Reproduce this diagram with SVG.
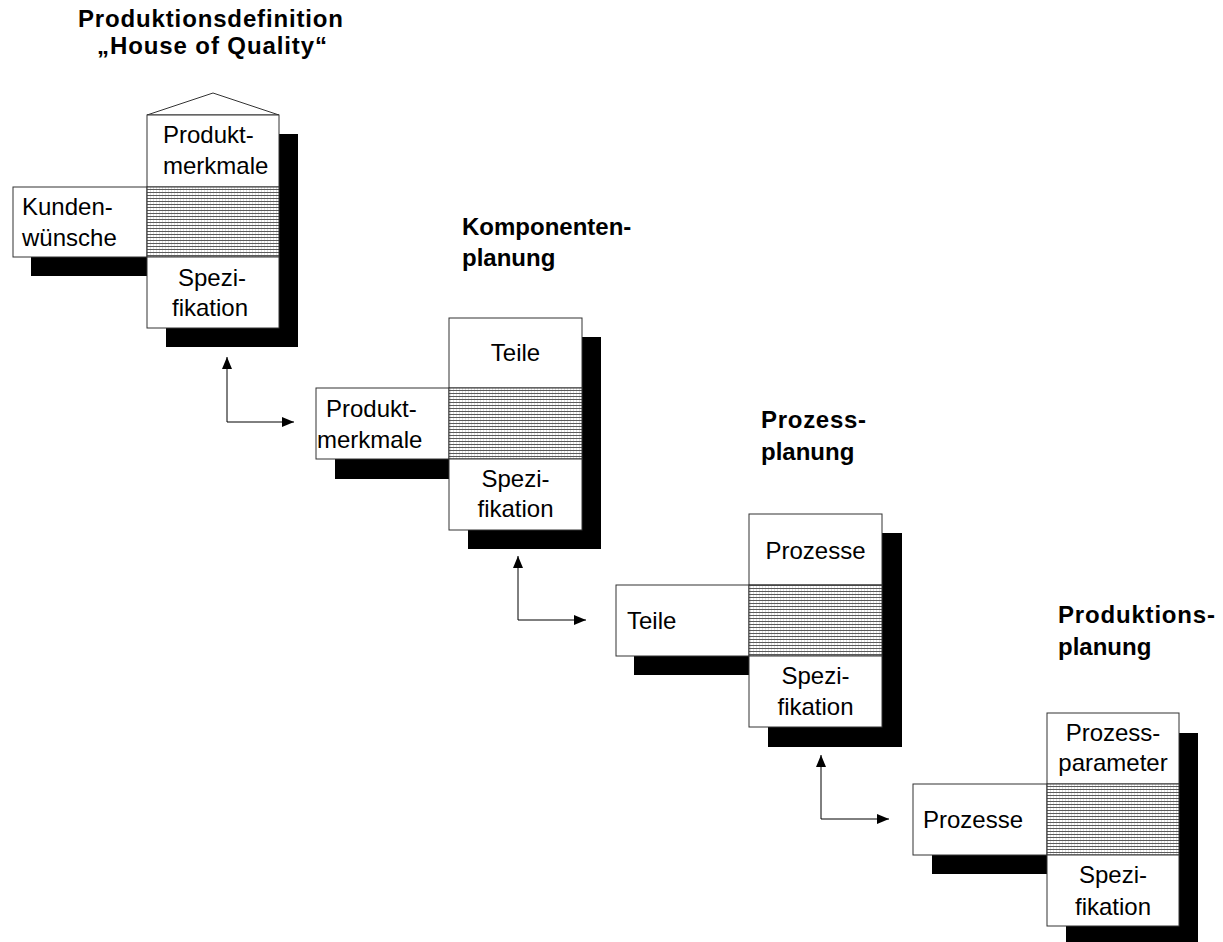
<svg xmlns="http://www.w3.org/2000/svg" width="1223" height="942" viewBox="0 0 1223 942">
  <style>
    .box { fill: #ffffff; stroke: #333333; stroke-width: 1; }
    .hatch { fill: url(#hatch); stroke: #333333; stroke-width: 1; }
    .shadow { fill: #000000; }
    .lbl { font-family: "Liberation Sans", Arial, sans-serif; font-size: 24px; fill: #000000; }
    .mid { text-anchor: middle; }
    .title { font-family: "Liberation Sans", Arial, sans-serif; font-size: 24px; font-weight: bold; fill: #000000; }
    .conn { fill: none; stroke: #000000; stroke-width: 1; }
  </style>
  <defs>
    <pattern id="hatch" patternUnits="userSpaceOnUse" width="3" height="3">
      <rect width="3" height="3" fill="#ffffff"/>
      <rect x="0" y="0" width="0.6" height="3" fill="#c8c8c8"/>
      <rect x="0" y="0" width="3" height="1" fill="#5a5a5a"/>
    </pattern>
    <marker id="head" viewBox="0 0 12 10" refX="12" refY="5" markerWidth="12" markerHeight="10" markerUnits="userSpaceOnUse" orient="auto-start-reverse">
      <path d="M0,0 L12,5 L0,10 Z" fill="#000000"/>
    </marker>
  </defs>

  <rect width="1223" height="942" fill="#ffffff"/>

  <!-- stage 1: product definition -->
  <g id="house-produktdefinition">
    <polygon class="shadow" points="166,134 298,134 298,347 166,347 166,276 31,276 31,206 166,206"/>
    <polygon class="box" points="147,115 213,93 279,115"/>
    <rect class="box" x="147" y="115" width="132" height="72"/>
    <rect class="box" x="13" y="187" width="134" height="70"/>
    <rect class="hatch" x="147" y="187" width="132" height="70"/>
    <rect class="box" x="147" y="257" width="132" height="71"/>
    <text class="title" x="78" y="27" textLength="265" lengthAdjust="spacing">Produktionsdefinition</text>
    <text class="title" x="97" y="54" textLength="230" lengthAdjust="spacing">„House of Quality“</text>
    <text class="lbl" x="163" y="143">Produkt-</text>
    <text class="lbl" x="163" y="174">merkmale</text>
    <text class="lbl" x="22" y="215">Kunden-</text>
    <text class="lbl" x="22" y="246">wünsche</text>
    <text class="lbl mid" x="212" y="286">Spezi-</text>
    <text class="lbl mid" x="210" y="316">fikation</text>
  </g>

  <!-- stage 2: component planning -->
  <g id="house-komponentenplanung">
    <polygon class="shadow" points="468,337 601,337 601,549 468,549 468,479 335,479 335,407 468,407"/>
    <rect class="box" x="449" y="318" width="133" height="70"/>
    <rect class="box" x="316" y="388" width="133" height="71"/>
    <rect class="hatch" x="449" y="388" width="133" height="71"/>
    <rect class="box" x="449" y="459" width="133" height="71"/>
    <text class="title" x="462" y="235">Komponenten-</text>
    <text class="title" x="462" y="266">planung</text>
    <text class="lbl mid" x="515.5" y="361">Teile</text>
    <text class="lbl" x="326" y="417">Produkt-</text>
    <text class="lbl" x="317" y="448">merkmale</text>
    <text class="lbl mid" x="515.5" y="487">Spezi-</text>
    <text class="lbl mid" x="515.5" y="517">fikation</text>
  </g>

  <!-- stage 3: process planning -->
  <g id="house-prozessplanung">
    <polygon class="shadow" points="768,533 902,533 902,747 768,747 768,675 634,675 634,604 768,604"/>
    <rect class="box" x="749" y="514" width="133" height="71"/>
    <rect class="box" x="616" y="585" width="133" height="71"/>
    <rect class="hatch" x="749" y="585" width="133" height="71"/>
    <rect class="box" x="749" y="656" width="133" height="71"/>
    <text class="title" x="761" y="428" textLength="105" lengthAdjust="spacing">Prozess-</text>
    <text class="title" x="761" y="460">planung</text>
    <text class="lbl mid" x="815.5" y="559">Prozesse</text>
    <text class="lbl" x="627" y="629">Teile</text>
    <text class="lbl mid" x="815.5" y="684">Spezi-</text>
    <text class="lbl mid" x="815.5" y="715">fikation</text>
  </g>

  <!-- stage 4: production planning -->
  <g id="house-produktionsplanung">
    <polygon class="shadow" points="1066,733 1198,733 1198,942 1066,942 1066,874 932,874 932,803 1066,803"/>
    <rect class="box" x="1047" y="713" width="132" height="71"/>
    <rect class="box" x="913" y="784" width="134" height="71"/>
    <rect class="hatch" x="1047" y="784" width="132" height="71"/>
    <rect class="box" x="1047" y="855" width="132" height="71"/>
    <text class="title" x="1058" y="623" textLength="157" lengthAdjust="spacing">Produktions-</text>
    <text class="title" x="1058" y="655">planung</text>
    <text class="lbl mid" x="1113" y="741">Prozess-</text>
    <text class="lbl mid" x="1113" y="771">parameter</text>
    <text class="lbl" x="923" y="828">Prozesse</text>
    <text class="lbl mid" x="1113" y="883">Spezi-</text>
    <text class="lbl mid" x="1113" y="915">fikation</text>
  </g>

  <!-- two-way links between consecutive stages -->
  <g id="connectors">
    <path class="conn" d="M227,357 V422 H294" marker-start="url(#head)" marker-end="url(#head)"/>
    <path class="conn" d="M518,556 V620 H586" marker-start="url(#head)" marker-end="url(#head)"/>
    <path class="conn" d="M821,755 V819 H889" marker-start="url(#head)" marker-end="url(#head)"/>
  </g>
</svg>
